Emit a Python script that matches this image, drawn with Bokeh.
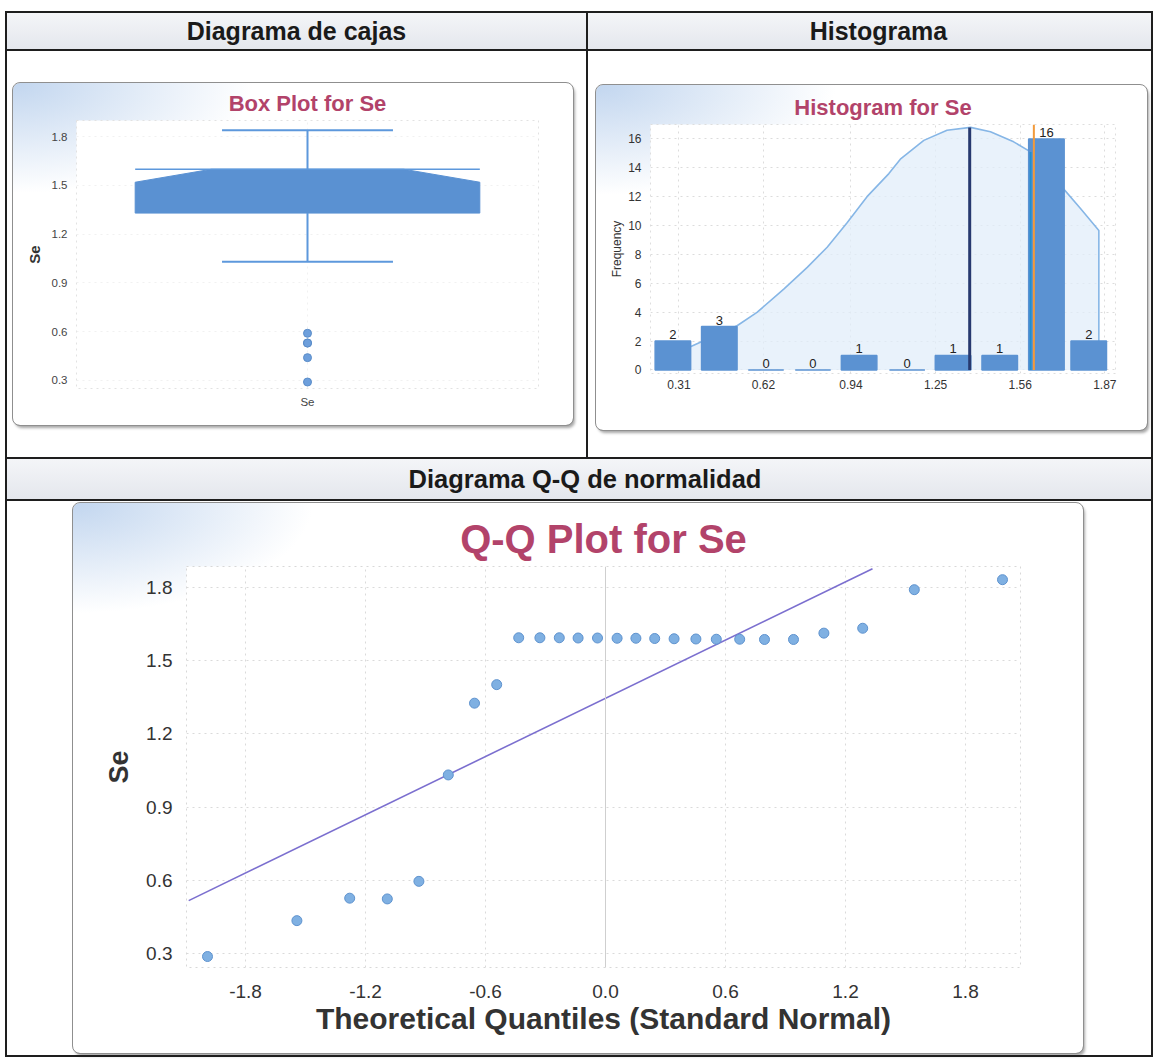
from bokeh.plotting import figure
from bokeh.models import Div, Range1d, FixedTicker, Span
from bokeh.layouts import column, row
from bokeh.embed import file_html
from bokeh.resources import INLINE
from bokeh.core.properties import value

FONT = "Liberation Sans"
TITLE_COLOR = "#b2436a"

# ---------------- data ----------------
# Box plot
box_label = "Se"
box_q1 = 1.33
box_median = 1.60
box_q3 = 1.60
box_notch_low = 1.52
box_whisker_low = 1.03
box_whisker_high = 1.84
box_outliers = [0.59, 0.53, 0.53, 0.44, 0.29]
box_y_ticks = [0.3, 0.6, 0.9, 1.2, 1.5, 1.8]

# Histogram
hist_bin_centers = [0.288, 0.458, 0.629, 0.801, 0.970, 1.146, 1.314, 1.485, 1.656, 1.811]
hist_counts = [2, 3, 0, 0, 1, 0, 1, 1, 16, 2]
hist_x_ticks = [0.31, 0.62, 0.94, 1.25, 1.56, 1.87]
hist_y_ticks = [0, 2, 4, 6, 8, 10, 12, 14, 16]
hist_curve_x = [0.352, 0.523, 0.596, 0.694, 0.780, 0.853, 0.926, 0.999, 1.079, 1.121,
                1.207, 1.292, 1.378, 1.451, 1.536, 1.598, 1.707, 1.780, 1.848, 1.848]
hist_curve_y = [1.6, 3.06, 3.98, 5.6, 7.1, 8.5, 10.2, 12.0, 13.6, 14.6,
                15.9, 16.6, 16.8, 16.5, 15.8, 15.1, 12.8, 11.2, 9.65, 1.8]
hist_mean = 1.375
hist_mean_top = 16.8
hist_mode = 1.598
hist_mode_top = 15.1
hist_median = 1.610
hist_median_top = 17.0

# Q-Q plot
qq_theoretical = [-1.990, -1.543, -1.279, -1.091, -0.933, -0.786, -0.655, -0.544,
                  -0.434, -0.328, -0.231, -0.137, -0.040, 0.058, 0.152, 0.246,
                  0.343, 0.452, 0.554, 0.671, 0.795, 0.940,
                  1.092, 1.286, 1.544, 1.985]
qq_sample = [0.288, 0.435, 0.527, 0.524, 0.596, 1.032, 1.326, 1.402,
             1.594, 1.594, 1.594, 1.593, 1.593, 1.592, 1.592, 1.591,
             1.590, 1.589, 1.588, 1.588, 1.587, 1.587,
             1.613, 1.633, 1.791, 1.832]
qq_line_x = [-2.084, 1.335]
qq_line_y = [0.517, 1.877]
qq_x_ticks = [-1.8, -1.2, -0.6, 0.0, 0.6, 1.2, 1.8]
qq_y_ticks = [0.3, 0.6, 0.9, 1.2, 1.5, 1.8]

headers = ["Diagrama de cajas", "Histograma", "Diagrama Q-Q de normalidad"]

# ---------------- styles ----------------
PANEL_STYLE = {
    "outline": "1px solid #8f8f8f",
    "border-radius": "7px",
    "box-shadow": "2px 3px 3px rgba(0,0,0,0.35)",
    "background": "radial-gradient(ellipse 240px 110px at 0% 0%, #c2d6ef 0%, rgba(255,255,255,0) 100%), #ffffff",
}


def hline(w):
    return Div(text="", width=w, height=2, margin=0, styles={"background-color": "#1e1e1e"})


def vline(h):
    return Div(text="", width=2, height=h, margin=0, styles={"background-color": "#1e1e1e"})


def header(text, w, h, indent=0, size="25px"):
    return Div(text=text, width=w, height=h, margin=0, styles={
        "background": "linear-gradient(to bottom, #f4f5f8, #e4e7ed)",
        "font-family": FONT, "font-weight": "bold", "font-size": size,
        "color": "#1a1a1a", "text-align": "center", "line-height": f"{h}px",
        "text-indent": f"{indent}px", "white-space": "nowrap",
    })


def style_axes(p, tick_size, tick_color="#444444"):
    for ax in (p.xaxis, p.yaxis):
        ax.axis_line_color = None
        ax.major_tick_line_color = None
        ax.minor_tick_line_color = None
        ax.major_tick_out = 0
        ax.major_tick_in = 0
        ax.minor_tick_out = 0
        ax.minor_tick_in = 0
        ax.major_label_text_font = FONT
        ax.major_label_text_font_size = tick_size
        ax.major_label_text_color = tick_color
        ax.axis_label_text_font = FONT
        ax.axis_label_text_color = "#333333"


def style_title(p, text, size, standoff):
    p.title.text = text
    p.title.align = "center"
    p.title.text_font = FONT
    p.title.text_font_size = size
    p.title.text_font_style = "bold"
    p.title.text_color = TITLE_COLOR
    p.title.standoff = standoff


# ---------------- box plot ----------------
pb = figure(width=560, height=342, x_range=Range1d(0, 1), y_range=Range1d(0.25, 1.90),
            output_backend="svg", toolbar_location=None,
            min_border_left=63, min_border_right=35, min_border_top=37, min_border_bottom=37,
            border_fill_color=None, background_fill_color="white",
            outline_line_color="#e2e2e2", outline_line_dash="dotted",
            margin=(32, 13, 32, 6), styles=PANEL_STYLE)
style_title(pb, "Box Plot for Se", "22px", 10)
style_axes(pb, "11.5px")
pb.xaxis.ticker = FixedTicker(ticks=[0.5])
pb.xaxis.major_label_overrides = {0.5: box_label}
pb.xaxis.major_label_standoff = 7
pb.yaxis.ticker = FixedTicker(ticks=box_y_ticks)
pb.yaxis.major_label_standoff = 9
pb.yaxis.axis_label = "Se"
pb.yaxis.axis_label_text_font_size = "15px"
pb.yaxis.axis_label_text_font_style = "bold"
pb.yaxis.axis_label_standoff = 6
pb.grid.grid_line_color = "#f1f1f1"
pb.grid.grid_line_dash = "dotted"

c, hw, nw, cw = 0.5, 0.373, 0.208, 0.185
pb.patch([c - hw, c - hw, c - nw, c + nw, c + hw, c + hw],
         [box_q1, box_notch_low, box_median, box_median, box_notch_low, box_q1],
         fill_color="#5a91d2", line_color="#5a91d2", line_width=1)
pb.segment(x0=[c - hw], y0=[box_q3], x1=[c + hw], y1=[box_q3], line_color="#5d98dc", line_width=1.5)
pb.segment(x0=[c, c], y0=[box_q3, box_q1], x1=[c, c], y1=[box_whisker_high, box_whisker_low],
           line_color="#5d98dc", line_width=2)
pb.segment(x0=[c - cw, c - cw], y0=[box_whisker_high, box_whisker_low],
           x1=[c + cw, c + cw], y1=[box_whisker_high, box_whisker_low],
           line_color="#5d98dc", line_width=2)
pb.scatter([c] * len(box_outliers), box_outliers, size=8,
           fill_color="#6d9fdc", line_color="#5a8cc8")

# ---------------- histogram ----------------
ph = figure(width=551, height=345, x_range=Range1d(0.206, 1.909), y_range=Range1d(-0.25, 17.0),
            output_backend="svg", toolbar_location=None,
            min_border_left=54, min_border_right=32, min_border_top=39, min_border_bottom=57,
            border_fill_color=None, background_fill_color="white",
            outline_line_color="#dedede", outline_line_dash="dotted",
            margin=(34, 4, 27, 8), styles=PANEL_STYLE)
style_title(ph, "Histogram for Se", "22px", 10)
style_axes(ph, "12px", "#333333")
ph.xaxis.ticker = FixedTicker(ticks=hist_x_ticks)
ph.xaxis.major_label_standoff = 6
ph.yaxis.ticker = FixedTicker(ticks=hist_y_ticks)
ph.yaxis.major_label_standoff = 9
ph.yaxis.axis_label = "Frequency"
ph.yaxis.axis_label_text_font_size = "12px"
ph.yaxis.axis_label_text_font_style = "normal"
ph.yaxis.axis_label_standoff = 1
ph.grid.grid_line_color = "#dcdcdc"
ph.grid.grid_line_dash = "dotted"

ph.varea(x=hist_curve_x, y1=0, y2=hist_curve_y, fill_color="#e2edf9", fill_alpha=0.75)
ph.line(hist_curve_x, hist_curve_y, line_color="#86b6e6", line_width=1.6)
ph.vbar(x=hist_bin_centers, top=hist_counts, bottom=0, width=0.13,
        fill_color="#5b92d2", line_color="#5b92d2", line_width=1.5)
ph.segment(x0=[hist_mean], y0=[0], x1=[hist_mean], y1=[hist_mean_top], line_color="#27396f", line_width=3)
ph.segment(x0=[hist_mode], y0=[0], x1=[hist_mode], y1=[hist_mode_top], line_color="#1f8fcf", line_width=2)
ph.segment(x0=[hist_median], y0=[0], x1=[hist_median], y1=[hist_median_top], line_color="#f29a3a", line_width=2)
ph.text(x=hist_bin_centers, y=hist_counts, text=[str(v) for v in hist_counts],
        text_align="center", text_baseline="bottom", y_offset=-2,
        text_font=value(FONT), text_font_size="13px", text_color="#222222")

# ---------------- Q-Q plot ----------------
pq = figure(width=1010, height=550, x_range=Range1d(-2.095, 2.075), y_range=Range1d(0.243, 1.886),
            output_backend="svg", toolbar_location=None,
            min_border_left=113, min_border_right=63, min_border_top=63, min_border_bottom=86,
            border_fill_color=None, background_fill_color="white",
            outline_line_color="#d8d8d8", outline_line_dash="dotted",
            margin=(2, 68, 2, 66), styles=PANEL_STYLE)
style_title(pq, "Q-Q Plot for Se", "40px", 12)
style_axes(pq, "19px", "#333333")
pq.xaxis.ticker = FixedTicker(ticks=qq_x_ticks)
pq.xaxis.major_label_overrides = {v: f"{v:.1f}" for v in qq_x_ticks}
pq.xaxis.major_label_standoff = 17
pq.xaxis.axis_label = "Theoretical Quantiles (Standard Normal)"
pq.xaxis.axis_label_text_font_size = "30px"
pq.xaxis.axis_label_text_font_style = "bold"
pq.xaxis.axis_label_standoff = 1
pq.yaxis.ticker = FixedTicker(ticks=qq_y_ticks)
pq.yaxis.major_label_standoff = 14
pq.yaxis.axis_label = "Se"
pq.yaxis.axis_label_text_font_size = "27px"
pq.yaxis.axis_label_text_font_style = "bold"
pq.yaxis.axis_label_standoff = 9
pq.grid.grid_line_color = "#dadada"
pq.grid.grid_line_dash = "dotted"
pq.add_layout(Span(location=0.0, dimension="height", line_color="#cfcfcf", line_width=1))

pq.line(qq_line_x, qq_line_y, line_color="#7b6fcf", line_width=1.6)
pq.scatter(qq_theoretical, qq_sample, size=10, fill_color="#7fb0e2", line_color="#5f93cf")

# ---------------- table layout ----------------
left_cell = column(header(headers[0], 579, 36), hline(579), pb)
right_cell = column(header(headers[1], 563, 36, indent=18), hline(563), ph)
top_row = row(vline(444), left_cell, vline(444), right_cell, vline(444))
bottom_cell = column(header(headers[2], 1144, 40, indent=12, size="25.5px"), hline(1144), pq)
bottom_row = row(vline(596), bottom_cell, vline(596))
root = column(hline(1148), top_row, hline(1148), bottom_row, hline(1148), margin=(11, 0, 0, 5))

open("out.html", "w").write(file_html(root, INLINE))
